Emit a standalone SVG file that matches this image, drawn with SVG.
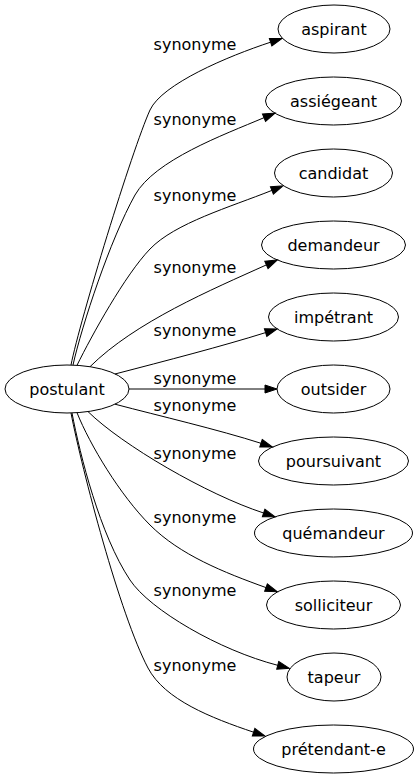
<svg xmlns="http://www.w3.org/2000/svg" width="419" height="779" viewBox="0 0 419 779">
<style>
.node ellipse{fill:none;stroke:#000;stroke-width:1}
text{font-family:"DejaVu Sans",Verdana,sans-serif;font-size:16px;fill:#000;text-anchor:middle}
.edges path{fill:none;stroke:#000;stroke-width:1;marker-end:url(#arr)}
</style>
<defs>
<marker id="arr" markerUnits="userSpaceOnUse" markerWidth="14" markerHeight="10" refX="0" refY="4" orient="auto" overflow="visible">
<path d="M0,0 L12,4 L0,8 z" fill="#000" stroke="#000" stroke-width="1"/>
</marker>
</defs>
<rect width="419" height="779" fill="#fff"/>
<g class="edges" id="edges">
<path d="M71,365 C80,320 132,150 150,110 C162,84 227.9,56.2 270.6,42.2"/>
<path d="M73,365 C82,325 110,240 135,195 C155,160 222.6,135.2 264,117.7"/>
<path d="M77,365.3 C92,335 125,275 150,249 C175,223 230.1,207.1 271.9,190.4"/>
<path d="M90,366.7 C135,322 211.8,289.5 266.4,264.9"/>
<path d="M115,374 C165,361 222.7,346.1 265.6,332.6"/>
<path d="M129,389 L265,389"/>
<path d="M115,404.2 C160,416 218.2,429.6 261,443.3"/>
<path d="M88,411.6 C122,445 206.6,494.4 263.6,513"/>
<path d="M77,412.7 C90,445 120,495 150,525 C180,555 223.7,572.3 266,587.6"/>
<path d="M72,413 C80,455 100,535 130,580 C150,610 219.5,650.3 277.7,665.3"/>
<path d="M71,413 C82,470 120,615 148,668 C164.8,699.8 211,717.8 253.6,732.2"/>
<text x="195" y="50">synonyme</text>
<text x="195" y="125">synonyme</text>
<text x="195" y="201">synonyme</text>
<text x="195" y="273">synonyme</text>
<text x="195" y="336">synonyme</text>
<text x="195" y="384">synonyme</text>
<text x="195" y="411">synonyme</text>
<text x="195" y="459">synonyme</text>
<text x="195" y="523">synonyme</text>
<text x="195" y="596">synonyme</text>
<text x="195" y="671">synonyme</text>
</g>
<g class="node" id="postulant"><ellipse cx="67" cy="389" rx="62" ry="24"/><text x="67" y="394.5">postulant</text></g>
<g class="node" id="aspirant"><ellipse cx="334" cy="29" rx="56" ry="24"/><text x="334" y="34.5">aspirant</text></g>
<g class="node" id="assiegeant"><ellipse cx="333.5" cy="101" rx="68" ry="24"/><text x="333.5" y="106.5">assiégeant</text></g>
<g class="node" id="candidat"><ellipse cx="333.5" cy="173" rx="59" ry="24"/><text x="333.5" y="178.5">candidat</text></g>
<g class="node" id="demandeur"><ellipse cx="333.5" cy="245" rx="72" ry="24"/><text x="333.5" y="250.5">demandeur</text></g>
<g class="node" id="impetrant"><ellipse cx="333.5" cy="317" rx="65" ry="24"/><text x="333.5" y="322.5">impétrant</text></g>
<g class="node" id="outsider"><ellipse cx="333.5" cy="389" rx="56.5" ry="24"/><text x="333.5" y="394.5">outsider</text></g>
<g class="node" id="poursuivant"><ellipse cx="333.5" cy="461" rx="75" ry="24"/><text x="333.5" y="466.5">poursuivant</text></g>
<g class="node" id="quemandeur"><ellipse cx="333.5" cy="533" rx="79" ry="24"/><text x="333.5" y="538.5">quémandeur</text></g>
<g class="node" id="solliciteur"><ellipse cx="333.5" cy="605" rx="67" ry="24"/><text x="333.5" y="610.5">solliciteur</text></g>
<g class="node" id="tapeur"><ellipse cx="334" cy="677" rx="47" ry="24"/><text x="334" y="682.5">tapeur</text></g>
<g class="node" id="pretendant-e"><ellipse cx="333.5" cy="749" rx="80" ry="24"/><text x="333.5" y="754.5">prétendant-e</text></g>
</svg>
